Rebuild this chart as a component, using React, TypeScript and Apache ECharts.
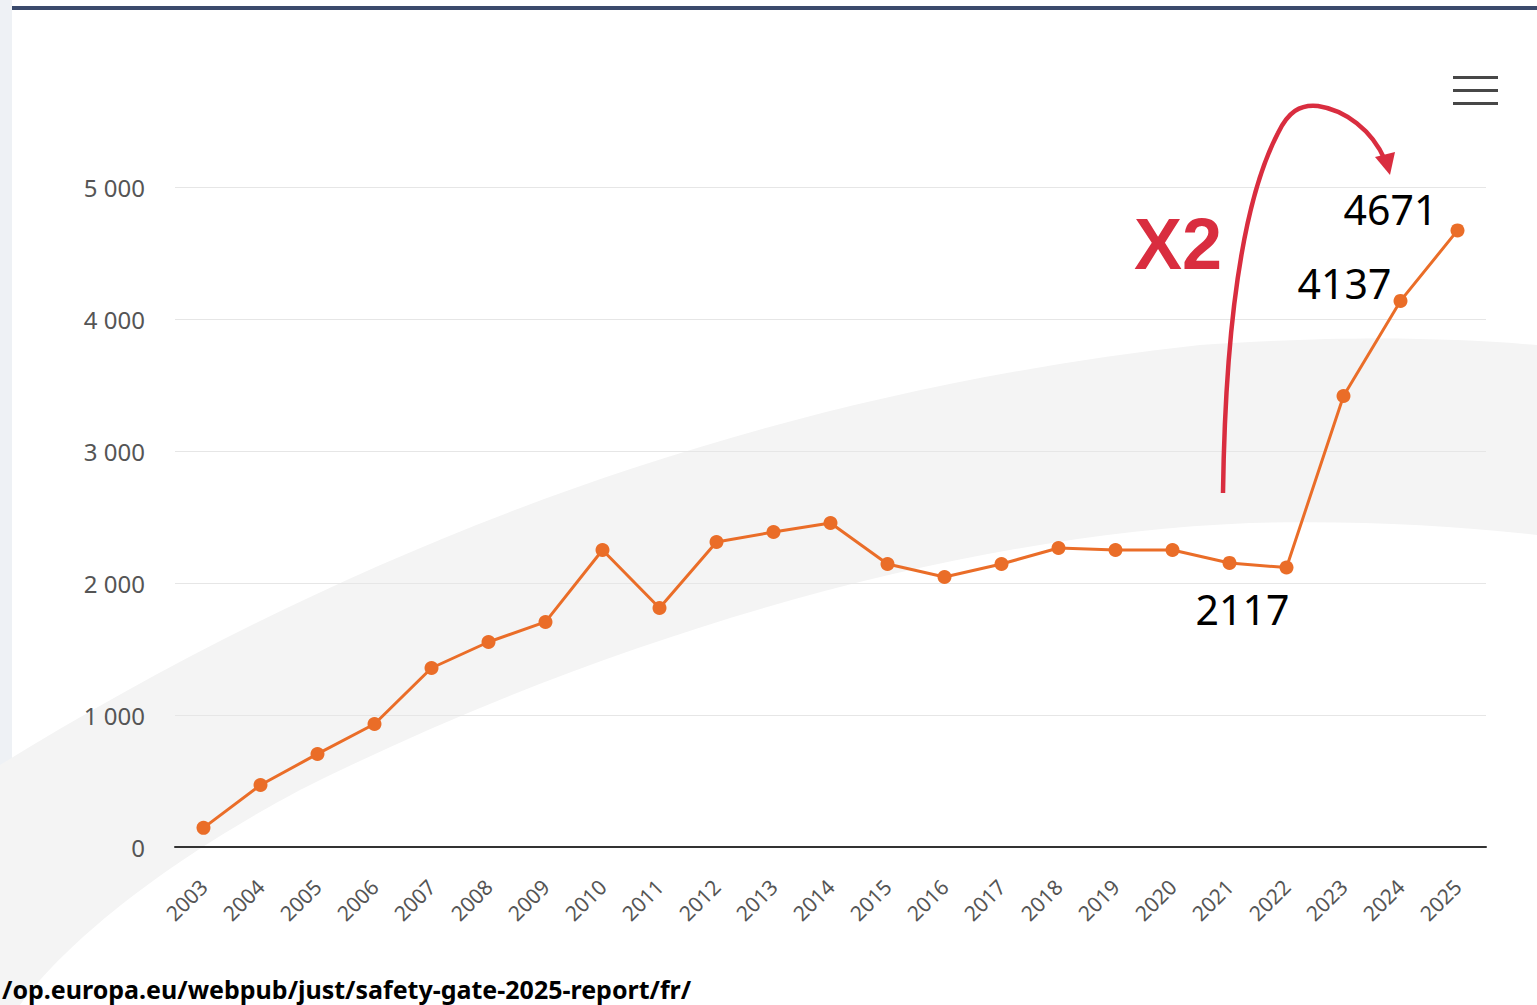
import React, { useEffect, useRef } from "react";
import * as echarts from "echarts";

const years = [
  "2003", "2004", "2005", "2006", "2007", "2008", "2009", "2010", "2011", "2012", "2013", "2014",
  "2015", "2016", "2017", "2018", "2019", "2020", "2021", "2022", "2023", "2024", "2025",
];
const alerts = [
  145, 470, 705, 932, 1356, 1553, 1705, 2250, 1811, 2311, 2386, 2455,
  2144, 2045, 2144, 2265, 2250, 2250, 2152, 2117, 3417, 4137, 4671,
];
const yTicks = [0, 1000, 2000, 3000, 4000, 5000];
const annotatedYears = ["2022", "2024", "2025"];
const multiplierText = "X2";
const sourceText = "/op.europa.eu/webpub/just/safety-gate-2025-report/fr/";

const SWOOSH =
  "M0,765 C300,580 700,400 1200,345 C1350,335 1450,338 1537,345 L1537,535 C1450,525 1350,520 1250,523 C950,535 600,640 300,790 C150,870 60,950 20,1005 L0,1005 Z";
const ARROW =
  "M1223,493 C1225,350 1238,210 1278,133 C1288,112 1300,104 1318,106 C1345,110 1372,130 1385,160";

echarts.graphic.registerShape("swoosh", echarts.graphic.extendPath(SWOOSH, {}));
echarts.graphic.registerShape("arrowcurve", echarts.graphic.extendPath(ARROW, {}));

const labelOffsets: Record<string, number[]> = {
  "2022": [-44, 41],
  "2024": [-56, -18],
  "2025": [-67, -21],
};

const fmt = (v: number) => String(v).replace(/\B(?=(\d{3})+(?!\d))/g, " ");

export default function App() {
  const ref = useRef<HTMLDivElement>(null);
  useEffect(() => {
    if (!ref.current) return;
    const chart = echarts.init(ref.current, null, { renderer: "svg" });
    const red = "#d92d3f";
    const option: any = {
      animation: false,
      backgroundColor: "#ffffff",
      grid: { left: 175, right: 51, top: 187, height: 660, containLabel: false },
      xAxis: {
        type: "category",
        data: years,
        boundaryGap: true,
        axisLine: { show: true, lineStyle: { color: "#333333", width: 2 } },
        axisTick: { show: false },
        axisLabel: {
          rotate: 45,
          margin: 36,
          interval: 0,
          color: "#555555",
          fontSize: 21,
          fontFamily: "Noto Sans",
        },
        splitLine: { show: false },
      },
      yAxis: {
        type: "value",
        min: yTicks[0],
        max: yTicks[yTicks.length - 1],
        interval: 1000,
        axisLine: { show: false },
        axisTick: { show: false },
        axisLabel: {
          margin: 30,
          color: "#555555",
          fontSize: 24,
          fontFamily: "Noto Sans",
          formatter: (v: number) => fmt(v),
        },
        splitLine: { show: true, lineStyle: { color: "#e6e6e6", width: 1 } },
      },
      series: [
        {
          type: "line",
          data: alerts.map((v, i) => {
            const y = years[i];
            if (!annotatedYears.includes(y)) return v;
            return {
              value: v,
              label: {
                show: true,
                position: "inside",
                offset: labelOffsets[y],
                formatter: String(v),
                color: "#000000",
                fontSize: 41,
                fontFamily: "Noto Sans",
                align: "center",
                verticalAlign: "middle",
              },
            };
          }),
          symbol: "circle",
          symbolSize: 14,
          itemStyle: { color: "#ea6d28" },
          lineStyle: { color: "#ea6d28", width: 3 },
          z: 5,
        },
      ],
      graphic: [
        { type: "rect", z: -20, shape: { x: 0, y: 0, width: 12, height: 1005 }, style: { fill: "#eef1f5" } },
        { type: "swoosh", z: -10, x: 0, y: 0, style: { fill: "#f4f4f4" } },
        { type: "rect", z: 10, shape: { x: 12, y: 6, width: 1525, height: 4 }, style: { fill: "#3b4a6c" } },
        { type: "rect", z: 10, shape: { x: 1453, y: 76, width: 45, height: 3 }, style: { fill: "#474747" } },
        { type: "rect", z: 10, shape: { x: 1453, y: 89, width: 45, height: 3 }, style: { fill: "#474747" } },
        { type: "rect", z: 10, shape: { x: 1453, y: 102, width: 45, height: 3 }, style: { fill: "#474747" } },
        {
          type: "arrowcurve",
          z: 20,
          x: 0,
          y: 0,
          style: { fill: null, stroke: red, lineWidth: 4.5, lineCap: "butt" },
        },
        {
          type: "polygon",
          z: 20,
          shape: { points: [[1375, 157], [1395, 152], [1390, 175]] },
          style: { fill: red },
        },
        {
          type: "text",
          z: 20,
          style: {
            x: 1178,
            y: 244,
            text: multiplierText,
            fill: red,
            font: "bold 72px 'Liberation Sans'",
            align: "center",
            verticalAlign: "middle",
          },
        },
        {
          type: "text",
          z: 20,
          style: {
            x: 2,
            y: 989,
            text: sourceText,
            fill: "#000000",
            font: "bold 25px 'Noto Sans'",
            align: "left",
            verticalAlign: "middle",
          },
        },
      ],
    };
    chart.setOption(option);
    return () => chart.dispose();
  }, []);
  return (
    <div
      ref={ref}
      style={{ position: "absolute", left: 0, top: 0, width: 1537, height: 1005, background: "#fff" }}
    />
  );
}
